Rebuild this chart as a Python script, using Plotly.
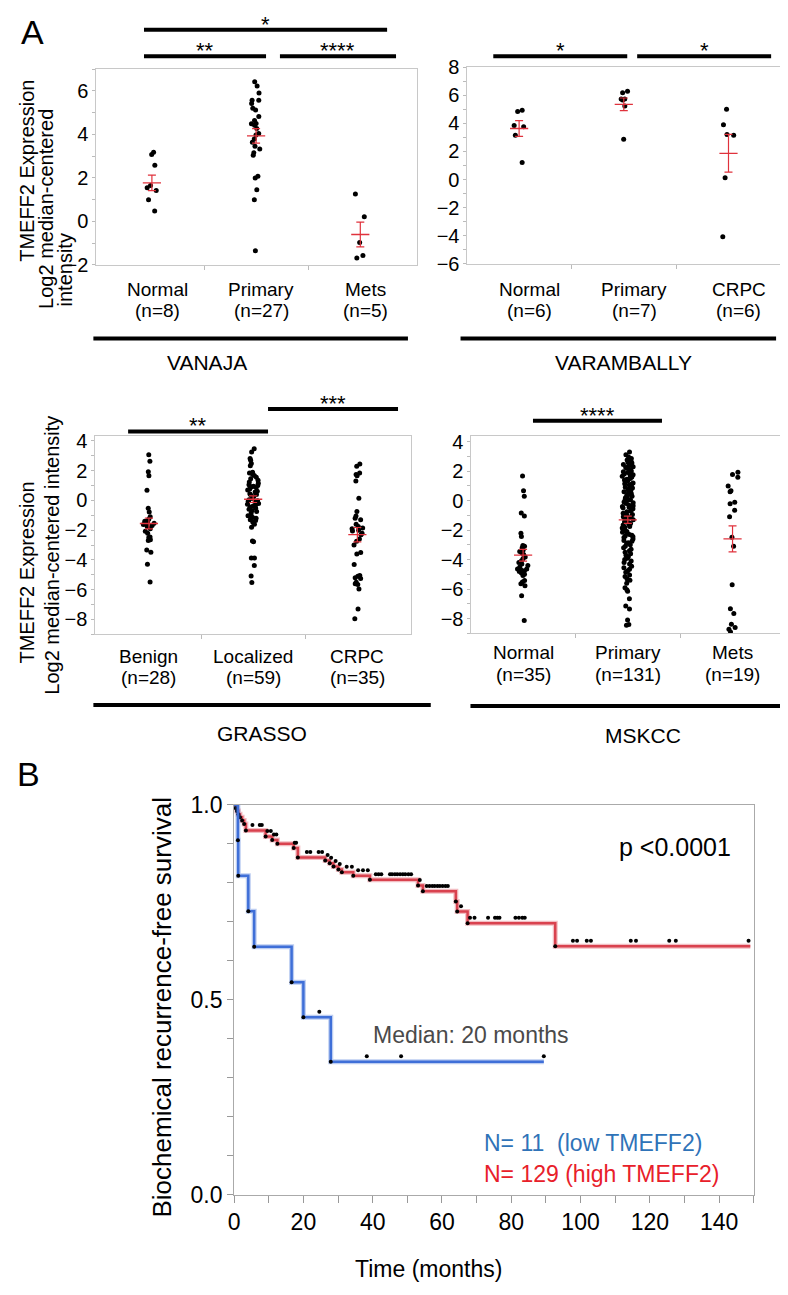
import numpy as np
import plotly.graph_objects as go

# page pixel geometry (reference picture coordinates); the html body adds an 8px margin
PAGE_OFF = 8
W, H = 788 - PAGE_OFF, 1295 - PAGE_OFF
FONT = "Liberation Sans, Arial, sans-serif"

# ---------------- Panel A data ----------------
vanaja_groups = ["Normal", "Primary", "Mets"]
vanaja_n = [8, 27, 5]
vanaja_normal = [3.18, 3.07, 2.58, 1.65, 1.55, 1.42, 1.00, 0.48]
vanaja_primary = [6.41, 6.22, 5.90, 5.57, 5.57, 5.42, 5.20, 5.12, 4.82, 4.64, 4.50, 4.49,
                  4.42, 4.27, 4.04, 3.97, 3.79, 3.64, 3.45, 3.33, 3.15, 3.04, 2.07, 1.99,
                  1.45, 1.00, -1.35]
vanaja_mets = [1.26, 0.22, -0.97, -1.57, -1.68]
vanaja_mean = [1.77, 3.93, -0.60]
vanaja_sem = [0.36, 0.33, 0.57]

varambally_groups = ["Normal", "Primary", "CRPC"]
varambally_n = [6, 7, 6]
varambally_normal = [4.84, 4.93, 3.85, 3.75, 3.16, 1.22]
varambally_primary = [6.17, 6.28, 5.72, 5.72, 5.65, 5.23, 2.86]
varambally_crpc = [5.00, 3.90, 3.16, 3.20, 0.13, -4.07]
varambally_mean = [3.63, 5.35, 1.87]
varambally_sem = [0.56, 0.45, 1.34]

grasso_groups = ["Benign", "Localized", "CRPC"]
grasso_n = [28, 59, 35]
grasso_benign = [3.07, 2.63, 1.93, 1.65, 0.68, -0.53, -0.77, -1.10, -1.25, -1.36, -1.40,
                 -1.50, -1.54, -1.58, -1.62, -1.69, -1.75, -1.90, -2.07, -2.20, -2.46,
                 -2.50, -2.64, -2.70, -3.34, -3.49, -4.29, -5.49]
grasso_localized = [3.47, 3.25, 2.81, 2.70, 2.48, 2.33, 1.89, 1.85, 1.75, 1.67, 1.55, 1.45,
                    1.35, 1.23, 1.15, 1.05, 1.01, 0.95, 0.92, 0.85, 0.79, 0.70, 0.62, 0.57,
                    0.45, 0.40, 0.35, 0.25, 0.13, 0.05, -0.02, -0.05, -0.10, -0.20, -0.25,
                    -0.31, -0.37, -0.45, -0.53, -0.60, -0.68, -0.75, -0.85, -1.03, -1.03,
                    -1.14, -1.20, -1.30, -1.35, -1.47, -1.60, -1.80, -2.73, -2.77, -3.87,
                    -3.87, -4.37, -5.08, -5.52]
grasso_crpc = [2.45, 2.30, 1.85, 1.75, 1.65, 1.30, 0.15, -0.75, -1.05, -1.20, -1.30, -1.60,
               -1.75, -1.85, -1.90, -2.00, -2.05, -2.20, -2.30, -2.60, -2.75, -3.00, -3.50,
               -3.60, -4.30, -5.05, -5.10, -5.20, -5.25, -5.50, -5.60, -5.65, -5.95, -7.30,
               -7.95]
grasso_mean = [-1.55, 0.08, -2.30]
grasso_sem = [0.36, 0.22, 0.48]

mskcc_groups = ["Normal", "Primary", "Mets"]
mskcc_n = [35, 131, 19]
mskcc_normal = [1.66, 0.66, 0.29, -0.84, -1.04, -2.21, -2.43, -3.05, -3.10, -3.20, -3.36,
                -3.45, -3.53, -3.65, -3.82, -3.95, -4.08, -4.19, -4.30, -4.40, -4.50, -4.64,
                -4.64, -4.70, -4.75, -4.80, -4.90, -5.00, -5.08, -5.41, -5.52, -5.63, -5.78,
                -6.45, -8.12]
mskcc_primary = [3.30, 3.10, 2.95, 2.85, 2.75, 2.65, 2.60, 2.55, 2.50, 2.45, 2.40, 2.35,
                 2.30, 2.25, 2.20, 2.10, 2.00, 1.95, 1.90, 1.85, 1.80, 1.75, 1.70, 1.65,
                 1.60, 1.50, 1.45, 1.40, 1.35, 1.30, 1.20, 1.15, 1.10, 1.05, 1.00, 0.90,
                 0.85, 0.80, 0.75, 0.70, 0.65, 0.60, 0.50, 0.45, 0.40, 0.35, 0.30, 0.20,
                 0.15, 0.10, 0.05, 0.00, -0.05, -0.10, -0.15, -0.20, -0.30, -0.35, -0.40,
                 -0.45, -0.50, -0.55, -0.60, -0.70, -0.75, -0.85, -0.95, -1.00, -1.10,
                 -1.15, -1.20, -1.25, -1.30, -1.35, -1.45, -1.50, -1.55, -1.60, -1.65,
                 -1.75, -1.80, -1.85, -1.95, -2.00, -2.05, -2.10, -2.15, -2.20, -2.30,
                 -2.35, -2.40, -2.45, -2.50, -2.60, -2.70, -2.75, -2.85, -2.90, -3.00,
                 -3.10, -3.20, -3.30, -3.40, -3.50, -3.60, -3.70, -3.80, -3.90, -4.00,
                 -4.10, -4.20, -4.30, -4.45, -4.55, -4.65, -4.75, -4.85, -5.05, -5.15,
                 -5.30, -5.40, -5.60, -5.90, -6.05, -6.15, -6.65, -7.15, -7.35, -8.10,
                 -8.40, -8.45]
mskcc_mets = [1.92, 1.77, 1.59, 0.99, 0.66, 0.60, -0.11, -0.22, -0.66, -1.10, -2.49, -3.09,
              -5.70, -7.33, -7.66, -8.39, -8.60, -8.72, -8.90]
mskcc_mean = [-3.70, -1.30, -2.60]
mskcc_sem = [0.40, 0.25, 0.88]

# ---------------- Panel B data (Kaplan-Meier) ----------------
low_step_time = [0, 1.1, 1.2, 4.1, 5.8, 16.6, 20.0, 27.9]
low_step_surv = [1.0, 0.909, 0.818, 0.727, 0.636, 0.545, 0.455, 0.341]
low_end_time = 89.4
low_censor_time = [24.6, 38.3, 48.2, 89.4]

high_step_time = [0, 0.4, 0.8, 1.2, 1.7, 2.3, 2.9, 3.4, 9.1, 11.0, 12.5, 17.2, 18.4, 26.3,
                  27.6, 28.7, 30.1, 31.1, 34.4, 39.2, 53.1, 54.5, 64.0, 64.4, 67.4, 92.7]
high_step_surv = [1.0, 0.992, 0.984, 0.976, 0.968, 0.960, 0.951, 0.934, 0.919, 0.910, 0.900,
                  0.889, 0.865, 0.857, 0.850, 0.842, 0.834, 0.827, 0.818, 0.808, 0.793,
                  0.778, 0.752, 0.726, 0.696, 0.637]
high_end_time = 149.0
high_censor_time = [5.3, 7.4, 8.0, 9.6, 10.6, 11.5, 12.2, 17.5, 17.9, 21.0, 22.0, 24.4, 25.4,
                    27.0, 28.0, 29.3, 30.5, 32.5, 34.0, 35.8, 37.2, 38.6, 40.9, 41.7, 42.5,
                    45.0, 45.6, 46.4, 47.1, 47.9, 48.7, 49.4, 50.3, 51.1, 53.6, 55.6, 56.4,
                    57.2, 57.9, 58.7, 59.4, 60.2, 61.0, 61.7, 65.5, 68.1, 69.4, 73.3, 75.3,
                    76.0, 76.6, 81.2, 82.2, 83.2, 83.9, 97.8, 99.0, 101.8, 103.0, 114.5,
                    116.0, 125.6, 127.5, 148.5]

# ---------------- helpers ----------------
def fx(p):
    return (p - PAGE_OFF) / W


def fy(p):
    return 1 - (p - PAGE_OFF) / H


fig = go.Figure()
annotations = []
shapes = []


def text(t, x, y, size, color="black", xanchor="center", yanchor="middle", angle=0):
    annotations.append(dict(text=t, x=fx(x), y=fy(y), xref="paper", yref="paper",
                            showarrow=False, xanchor=xanchor, yanchor=yanchor,
                            textangle=angle, font=dict(family=FONT, size=size, color=color)))


def hline(x0, x1, y, width=4):
    shapes.append(dict(type="line", xref="paper", yref="paper", x0=fx(x0), x1=fx(x1),
                       y0=fy(y), y1=fy(y), line=dict(color="black", width=width)))


RED = "#e0323c"
panels = [
    dict(name="VANAJA", groups=vanaja_groups, n=vanaja_n,
         values=[vanaja_normal, vanaja_primary, vanaja_mets], mean=vanaja_mean, sem=vanaja_sem,
         xd=(91, 414), yd=(57, 257), xr=(-0.533, 2.543), yr=(-2, 7), lab_off=0.05,
         lab_y=(282, 303), title=(202, 357), uline=(88, 405, 332),
         bars=[(139, 384, 17, "*"), (139, 262, 44, "**"), (276, 393, 44, "****")]),
    dict(name="VARAMBALLY", groups=varambally_groups, n=varambally_n,
         values=[varambally_normal, varambally_primary, varambally_crpc],
         mean=varambally_mean, sem=varambally_sem,
         xd=(465, 781), yd=(55, 256), xr=(-0.493, 2.502), yr=(-6, 8), lab_off=0.1,
         lab_y=(282, 303), title=(622, 357), uline=(458, 776, 332),
         bars=[(491, 626, 44, "*"), (636, 771, 44, "*")]),
    dict(name="GRASSO", groups=grasso_groups, n=grasso_n,
         values=[grasso_benign, grasso_localized, grasso_crpc], mean=grasso_mean, sem=grasso_sem,
         xd=(90, 408), yd=(432, 634), xr=(-0.514, 2.514), yr=(-9.0, 4.3), lab_off=0.0,
         lab_y=(657, 678), title=(258, 735), uline=(88, 428, 706),
         bars=[(123, 264, 427, "**"), (264, 395, 404, "***")]),
    dict(name="MSKCC", groups=mskcc_groups, n=mskcc_n,
         values=[mskcc_normal, mskcc_primary, mskcc_mets], mean=mskcc_mean, sem=mskcc_sem,
         xd=(469, 787), yd=(432, 633), xr=(-0.493, 2.52), yr=(-9.0, 4.35), lab_off=0.0,
         lab_y=(653, 675), title=(642, 737), uline=(468, 788, 707),
         bars=[(531, 661, 416, "****")]),
]

layout_axes = {}
for k, p in enumerate(panels):
    idx = "" if k == 0 else str(k + 1)
    xa, ya = "x" + idx, "y" + idx
    xs, ys = [], []
    for i, vals in enumerate(p["values"]):
        xs += [i] * len(vals)
        ys += list(vals)
    fig.add_trace(go.Box(x=xs, y=ys, boxpoints="all", jitter=0.4, pointpos=0, width=0.28,
                         marker=dict(color="black", size=5), line=dict(width=0),
                         fillcolor="rgba(0,0,0,0)", whiskerwidth=0, showlegend=False,
                         xaxis=xa, yaxis=ya, hoverinfo="y"))
    fig.add_trace(go.Scatter(x=[0, 1, 2], y=p["mean"], mode="markers",
                             marker=dict(symbol="line-ew", size=13,
                                         line=dict(color=RED, width=1.3)),
                             error_y=dict(type="data", array=p["sem"], color=RED,
                                          thickness=1.2, width=4),
                             showlegend=False, xaxis=xa, yaxis=ya))
    layout_axes["xaxis" + idx] = dict(
        domain=[fx(p["xd"][0]), fx(p["xd"][1])], range=list(p["xr"]), anchor=ya,
        tickvals=[0.5, 1.5], ticks="outside", ticklen=4, tickcolor="#bbbbbb",
        showticklabels=False, showline=True, mirror=True, linecolor="#c8c8c8",
        showgrid=False, zeroline=False)
    layout_axes["yaxis" + idx] = dict(
        domain=[fy(p["yd"][1]), fy(p["yd"][0])], range=list(p["yr"]), anchor=xa,
        dtick=2, tick0=0, ticks="outside", ticklen=3, tickcolor="#bbbbbb",
        minor=dict(dtick=1, ticks="outside", ticklen=3, tickcolor="#bbbbbb"),
        showline=True, mirror=True, linecolor="#c8c8c8", showgrid=False, zeroline=False,
        tickfont=dict(family=FONT, size=20, color="black"))
    for i, g in enumerate(p["groups"]):
        for j, t in enumerate([g, "(n=%d)" % p["n"][i]]):
            annotations.append(dict(text=t, x=i + p["lab_off"], y=fy(p["lab_y"][j]),
                                    xref=xa, yref="paper", showarrow=False,
                                    xanchor="center", yanchor="middle",
                                    font=dict(family=FONT, size=19, color="black")))
    text(p["name"], p["title"][0], p["title"][1], 21)
    hline(p["uline"][0], p["uline"][1], p["uline"][2])
    for (x0, x1, y, s) in p["bars"]:
        hline(x0, x1, y)
        text(s, (x0 + x1) / 2, y + 9, 22, yanchor="bottom")

# y-axis titles for panel A (each line placed separately)
for t, x, y in zip(["TMEFF2 Expression", "Log2 median-centered", "intensity"],
                   [21, 40, 59], [161, 200, 262]):
    text(t, x, y, 20, angle=-90)
for t, x, y in zip(["TMEFF2 Expression", "Log2 median-centered intensity"],
                   [21, 46], [571, 553]):
    text(t, x, y, 20, angle=-90)

text("A", 27, 19, 34)
text("B", 23, 777, 34)

# ---------------- Panel B ----------------
BLUE = "#3f6fd8"
KMRED = "#d9424f"
CENSOR_LIFT = 0.014


def surv_at(times, survs, t):
    i = np.searchsorted(np.array(times), t, side="right") - 1
    return survs[max(i, 0)]


for st, ss, end, cens, col, light in [
        (high_step_time, high_step_surv, high_end_time, high_censor_time, KMRED,
         "rgba(217,66,79,0.35)"),
        (low_step_time, low_step_surv, low_end_time, low_censor_time, BLUE,
         "rgba(63,111,216,0.35)")]:
    xs = list(st) + [end]
    ys = list(ss) + [ss[-1]]
    fig.add_trace(go.Scatter(x=xs, y=ys, mode="lines", line=dict(shape="hv", color=light, width=5),
                             showlegend=False, xaxis="x5", yaxis="y5", hoverinfo="skip"))
    fig.add_trace(go.Scatter(x=xs, y=ys, mode="lines", line=dict(shape="hv", color=col, width=2.5),
                             showlegend=False, xaxis="x5", yaxis="y5"))
    fig.add_trace(go.Scatter(x=st[1:], y=ss[1:], mode="markers",
                             marker=dict(color="black", size=4), showlegend=False,
                             xaxis="x5", yaxis="y5", cliponaxis=False))
    cy = [surv_at(st, ss, t) + CENSOR_LIFT for t in cens]
    fig.add_trace(go.Scatter(x=cens, y=cy, mode="markers",
                             marker=dict(color="black", size=4), showlegend=False,
                             xaxis="x5", yaxis="y5", cliponaxis=False))

layout_axes["xaxis5"] = dict(
    domain=[fx(229.8), fx(753.5)], range=[0, 150], anchor="y5", tickvals=list(range(0, 141, 20)),
    ticks="outside", ticklen=7, tickcolor="#999999",
    minor=dict(dtick=10, tick0=0, ticks="outside", ticklen=7, tickcolor="#999999"),
    showline=True, mirror=True, linecolor="#aaaaaa", showgrid=False, zeroline=False,
    tickfont=dict(family=FONT, size=23, color="black"))
layout_axes["yaxis5"] = dict(
    domain=[fy(1205.7), fy(808)], range=[0, 1.0], anchor="x5", tickvals=[0, 0.5, 1.0],
    tickformat=".1f", ticks="outside", ticklen=6, tickcolor="#999999",
    minor=dict(dtick=0.1, tick0=0, ticks="outside", ticklen=6, tickcolor="#999999"),
    showline=True, mirror=True, linecolor="#aaaaaa", showgrid=False, zeroline=False,
    tickfont=dict(family=FONT, size=23, color="black"))

for t, x, y, size, col, xa in [
        ("p &lt;0.0001", 127.3, 0.891, 25, "black", "center"),
        ("Median: 20 months", 68.5, 0.41, 23, "#4a4a4a", "center"),
        ("N= 11  (low TMEFF2)", 71.7, 0.133, 23, "#2f73b8", "left"),
        ("N= 129 (high TMEFF2)", 71.7, 0.052, 23, "#e8202a", "left")]:
    annotations.append(dict(text=t, x=x, y=y, xref="x5", yref="y5", showarrow=False,
                            xanchor=xa, yanchor="middle",
                            font=dict(family=FONT, size=size, color=col)))

text("Biochemical recurrence-free survival", 157, 1015, 26, angle=-90)
text("Time (months)", 426, 1282, 23)

fig.update_layout(width=W, height=H, margin=dict(l=0, r=0, t=0, b=0),
                  paper_bgcolor="white", plot_bgcolor="white",
                  font=dict(family=FONT, color="black"),
                  annotations=annotations, shapes=shapes, showlegend=False, **layout_axes)

fig.write_html("out.html")
